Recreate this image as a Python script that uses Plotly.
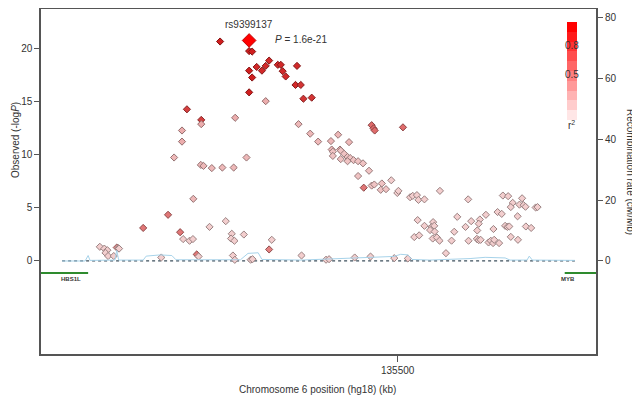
import plotly.graph_objects as go

# SNP positions (kb, hg18), -log10 P and r2 with the lead SNP
snp_kb = [
    135452.9, 135460.6, 135461.4, 135460.6, 135461.4, 135460.6, 135462.6, 135464.0, 135465.0, 135465.9,
    135468.2, 135469.0, 135469.5, 135470.3, 135473.3, 135472.9, 135474.3, 135475.0, 135477.2, 135444.1,
    135447.9, 135493.1, 135493.6, 135493.9, 135501.4, 135491.0, 135439.1, 135432.5, 135442.3, 135446.7,
    135425.5, 135465.9, 135465.0, 135473.7, 135476.8, 135478.9, 135447.9, 135442.8, 135442.8, 135456.9,
    135440.7, 135447.8, 135448.5, 135450.7, 135453.5, 135456.5, 135459.9, 135445.8, 135482.3, 135484.2,
    135487.1, 135482.5, 135484.7, 135482.8, 135482.8, 135484.9, 135484.9, 135485.8, 135486.7, 135487.4,
    135488.3, 135489.5, 135490.8, 135486.7, 135489.5, 135492.4, 135493.1, 135493.8, 135495.8, 135495.5,
    135496.9, 135498.3, 135499.9, 135500.2, 135503.3, 135504.0, 135505.1, 135505.5, 135507.1, 135511.2,
    135518.7, 135527.9, 135529.3, 135533.0, 135530.5, 135530.0, 135532.3, 135533.4, 135533.9, 135536.6,
    135537.1, 135515.8, 135519.5, 135521.8, 135521.5, 135523.4, 135526.5, 135527.6, 135531.8, 135518.0,
    135521.1, 135525.4, 135528.5, 135529.1, 135529.6, 135534.0, 135535.4, 135530.0, 135531.9, 135515.0,
    135514.3, 135518.8, 135521.0, 135521.5, 135522.0, 135524.1, 135524.7, 135525.3, 135525.6, 135526.9,
    135505.3, 135507.1, 135509.4, 135509.0, 135509.7, 135508.6, 135509.8, 135504.4, 135505.7, 135509.3,
    135510.4, 135511.1, 135512.8, 135492.8, 135499.1, 135502.7, 135481.0, 135481.8, 135488.6, 135474.5,
    135466.6, 135459.2, 135456.0, 135455.8, 135456.7, 135454.4, 135450.1, 135456.3, 135456.8, 135461.0,
    135461.5, 135443.1, 135444.8, 135445.7, 135447.2, 135437.3, 135421.0, 135422.2, 135423.0, 135422.5,
    135423.2, 135424.7, 135425.9, 135426.1,
]
snp_logp = [
    20.7, 19.8, 19.75, 17.95, 17.3, 15.9, 18.3, 17.95, 18.4, 18.9,
    18.5, 18.5, 17.9, 17.4, 18.4, 16.6, 16.6, 15.3, 15.4, 14.3,
    13.3, 12.8, 12.5, 12.3, 12.6, 6.9, 4.34, 3.1, 2.7, 0.6,
    1.25, 1.07, 15.07, 12.9, 12.0, 11.25, 12.9, 12.3, 11.25, 13.5,
    9.75, 9.05, 8.96, 8.75, 8.8, 8.8, 9.75, 5.85, 11.3, 11.9,
    11.2, 10.5, 10.5, 10.3, 9.9, 10.4, 9.6, 10.1, 9.8, 9.7,
    9.5, 9.4, 9.2, 9.4, 8.0, 8.5, 7.1, 7.2, 7.3, 6.7,
    6.76, 7.6, 6.4, 6.6, 6.0, 6.13, 6.2, 5.75, 5.8, 6.6,
    5.8, 6.16, 6.1, 5.9, 5.47, 5.07, 5.3, 5.25, 5.1, 5.03,
    5.07, 4.15, 3.74, 3.9, 3.5, 4.34, 4.6, 4.43, 4.2, 3.2,
    2.86, 3.0, 3.3, 3.2, 3.24, 3.24, 3.1, 2.26, 1.98, 2.74,
    1.9, 1.89, 2.07, 1.95, 1.98, 1.73, 1.89, 1.67, 1.98, 1.67,
    3.84, 3.3, 3.65, 3.2, 3.3, 2.9, 2.76, 2.24, 2.4, 2.1,
    2.2, 1.9, 0.72, 0.4, 0.25, 0.22, 0.1, 0.15, 0.31, 0.5,
    1.98, 2.48, 2.55, 2.1, 1.89, 3.74, 3.2, 0.5, 0.09, 0.1,
    0.15, 2.05, 1.89, 2.05, 0.41, 0.31, 1.32, 1.15, 1.0, 0.75,
    0.45, 0.45, 1.2, 1.15,
]
snp_r2 = (
    [0.9] * 6 + [0.85] * 10 + [0.8] * 3 + [0.75] * 2
    + [0.55] * 4 + [0.5] * 5 + [0.4, 0.45]
    + [0.25, 0.2, 0.2, 0.2, 0.25, 0.25, 0.25, 0.25]
    + [0.2] * 8 + [0.2] * 5
    + [0.15] * 18
    + [0.1] * 86
)
snp_r2 = snp_r2[:len(snp_kb)] + [0.1] * (len(snp_kb) - len(snp_r2))

lead_name = "rs9399137"
lead_kb = 135460.6
lead_logp = 20.8
lead_p = "1.6e-21"

# recombination rate (cM/Mb)
recomb_kb = [135411.0, 135417.1, 135417.9, 135418.4, 135425.0, 135425.5, 135426.0, 135432.5, 135433.3,
             135437.0, 135440.1, 135441.2, 135458.3, 135460.3, 135463.0, 135464.0, 135474.5, 135499.0,
             135500.8, 135502.7, 135503.8, 135508.5, 135519.2, 135523.2, 135528.5, 135529.8, 135534.3,
             135534.9, 135535.7, 135547.0]
recomb_rate = [0.0, 0.0, 1.8, 0.2, 0.3, 3.5, 0.3, 0.3, 1.6,
               2.0, 1.8, 0.4, 0.4, 2.5, 2.7, 0.5, 0.3, 1.5,
               2.2, 2.0, 0.5, 0.3, 0.8, 1.2, 1.0, 0.3, 0.3,
               1.6, 0.3, 0.2]

genes = ["HBS1L", "MYB"]
gene_start = [135323.0, 135544.3]
gene_end = [135417.9, 135582.0]
gene_label_kb = [135413.3, 135545.2]

x_range = [135405.4, 135552.6]
y_range = [-8.8, 23.77]
y2_range = [-30.6, 82.9]
gene_y = -1.16

bar_lo = (255, 230, 230)
bar_hi = (255, 0, 0)


def mix(a, b, t):
    return tuple(round(a[i] + (b[i] - a[i]) * t) for i in range(3))


def rgb(c):
    return "rgb(%d,%d,%d)" % c


steps = []
for k in range(10):
    c = rgb(mix(bar_lo, bar_hi, k / 9))
    steps.append([k / 10, c])
    steps.append([(k + 1) / 10, c])

pt_lo = (247, 228, 228)
pt_hi = (208, 30, 30)
fills = [rgb(mix(pt_lo, pt_hi, r / 0.9)) for r in snp_r2]
edges = [rgb(tuple(int(v * 0.63) for v in mix(pt_lo, pt_hi, r / 0.9))) for r in snp_r2]

font = "Liberation Sans, Arial, sans-serif"
ink = "#333333"

fig = go.Figure()

fig.add_trace(go.Scatter(
    x=recomb_kb, y=recomb_rate, yaxis="y2", mode="lines",
    line=dict(color="#a7d3ea", width=1), showlegend=False, hoverinfo="skip",
))
fig.add_trace(go.Scatter(
    x=[recomb_kb[0], recomb_kb[-1]], y=[0, 0], mode="lines",
    line=dict(color="#3d4f5c", width=1.3, dash="dot"), showlegend=False, hoverinfo="skip",
))
for g, s, e in zip(genes, gene_start, gene_end):
    fig.add_trace(go.Scatter(
        x=[s, e], y=[gene_y, gene_y], mode="lines",
        line=dict(color="#2e8b2e", width=2), showlegend=False, hoverinfo="skip",
    ))

fig.add_trace(go.Scatter(
    x=snp_kb, y=snp_logp, mode="markers",
    marker=dict(symbol="diamond", size=5.5, color=fills, line=dict(color=edges, width=1)),
    showlegend=False,
))
fig.add_trace(go.Scatter(
    x=[lead_kb], y=[lead_logp], mode="markers",
    marker=dict(symbol="diamond", size=10.5, color="#ff0000", line=dict(color="#c00000", width=1)),
    showlegend=False,
))
# colour key
fig.add_trace(go.Scatter(
    x=[None], y=[None], mode="markers",
    marker=dict(color=[0], cmin=0, cmax=1, colorscale=steps, showscale=True,
                colorbar=dict(x=0.948, xanchor="left", xpad=0, ypad=0, y=0.82, yanchor="middle",
                              len=0.284, thickness=10, outlinewidth=0,
                              showticklabels=False, ticks="")),
    showlegend=False, hoverinfo="skip",
))


def note(x, y, text, size=10, angle=0, paper=True, xanchor="center"):
    d = dict(x=x, y=y, text=text, showarrow=False, textangle=angle,
             xanchor=xanchor, yanchor="middle", font=dict(size=size, color=ink))
    if paper:
        d.update(xref="paper", yref="paper")
    return d


ann = [
    note(lead_kb, 22.3, lead_name, paper=False),
    note(135467.0, 20.9, "<i>P</i> = " + lead_p, paper=False, xanchor="left"),
    note(gene_label_kb[0], -1.75, "<b>" + genes[0] + "</b>", size=6, paper=False),
    note(gene_label_kb[1], -1.75, "<b>" + genes[1] + "</b>", size=6, paper=False),
    note(0.957, 0.893, "0.8"),
    note(0.957, 0.809, "0.5"),
    note(0.955, 0.664, "r<sup>2</sup>"),
    note(-0.047, 0.62, "Observed (-log<i>P</i>)", angle=-90),
    note(1.061, 0.528, "Recombination rate (cM/Mb)", angle=90),
    note(0.499, -0.104, "Chromosome 6 position (hg18) (kb)"),
]

axis_font = dict(family=font, size=10, color=ink)

# the page body adds an 8 px offset, so the figure is 8 px smaller on each side
fig.update_layout(
    template="none",
    width=632, height=392,
    margin=dict(l=33, r=44, t=1, b=46),
    paper_bgcolor="white", plot_bgcolor="white",
    font=dict(family=font, size=10, color=ink),
    annotations=ann,
    xaxis=dict(range=x_range, tickvals=[135500], ticktext=["135500"], ticks="outside",
               ticklen=6, tickcolor="#555", tickfont=axis_font, showgrid=False, zeroline=False,
               showline=True, linecolor="#555", linewidth=1.5, mirror=True),
    yaxis=dict(range=y_range, tickvals=[0, 5, 10, 15, 20], ticks="outside", ticklen=5,
               tickcolor="#555", tickfont=axis_font, showgrid=False, zeroline=False,
               showline=True, linecolor="#555", linewidth=1.5, mirror=True),
    yaxis2=dict(range=y2_range, tickvals=[0, 20, 40, 60, 80], overlaying="y", side="right",
                ticks="outside", ticklen=6, tickcolor="#555", tickfont=axis_font,
                showgrid=False, zeroline=False, showline=False),
)

fig.write_html("out.html")
